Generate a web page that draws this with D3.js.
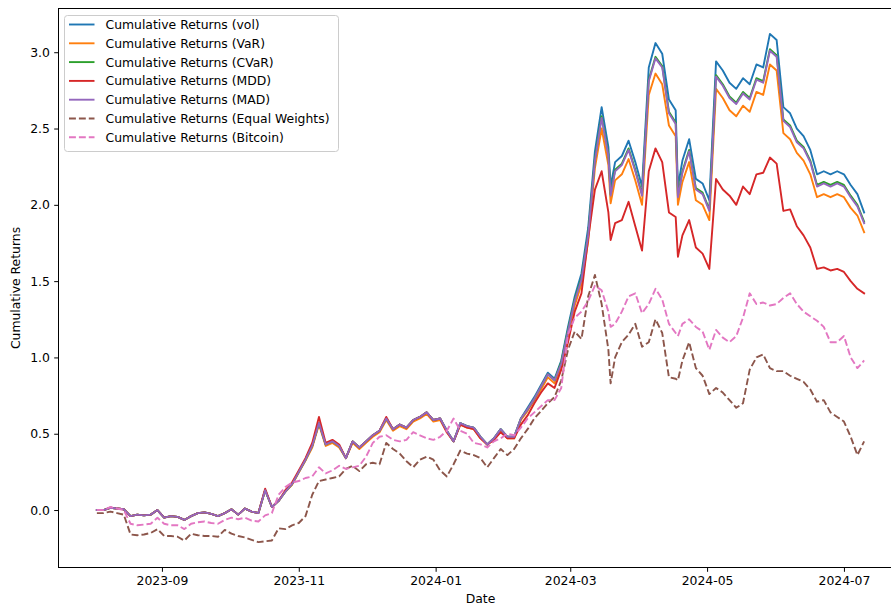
<!DOCTYPE html>
<html><head><meta charset="utf-8">
<script src="https://cdn.jsdelivr.net/npm/d3@7"></script>
<style>body{margin:0;background:#fff;} svg{display:block;font-family:"DejaVu Sans",sans-serif;}</style>
</head><body><svg id="chart" width="891" height="605"></svg>
<script>
const dates=["2023-08-03","2023-08-06","2023-08-09","2023-08-12","2023-08-15","2023-08-18","2023-08-21","2023-08-24","2023-08-27","2023-08-30",
"2023-09-02","2023-09-05","2023-09-08","2023-09-11","2023-09-14","2023-09-17","2023-09-20","2023-09-23","2023-09-26","2023-09-29",
"2023-10-02","2023-10-05","2023-10-08","2023-10-11","2023-10-14","2023-10-17","2023-10-20","2023-10-23","2023-10-26","2023-10-29",
"2023-11-01","2023-11-04","2023-11-07","2023-11-10","2023-11-13","2023-11-16","2023-11-19","2023-11-22","2023-11-25","2023-11-28",
"2023-12-01","2023-12-04","2023-12-07","2023-12-10","2023-12-13","2023-12-16","2023-12-19","2023-12-22","2023-12-25","2023-12-28",
"2023-12-31","2024-01-03","2024-01-06","2024-01-09","2024-01-12","2024-01-15","2024-01-18","2024-01-21","2024-01-24","2024-01-27",
"2024-01-30","2024-02-02","2024-02-05","2024-02-08","2024-02-11","2024-02-14","2024-02-17","2024-02-20","2024-02-23","2024-02-26",
"2024-02-29","2024-03-03","2024-03-06","2024-03-09","2024-03-12","2024-03-15","2024-03-18","2024-03-19","2024-03-21","2024-03-24","2024-03-27",
"2024-03-30","2024-04-02","2024-04-05","2024-04-08","2024-04-11","2024-04-14","2024-04-17","2024-04-18","2024-04-20","2024-04-23","2024-04-26",
"2024-04-29","2024-05-02","2024-05-05","2024-05-08","2024-05-11","2024-05-14","2024-05-17","2024-05-20","2024-05-23","2024-05-26",
"2024-05-29","2024-06-01","2024-06-04","2024-06-07","2024-06-10","2024-06-13","2024-06-16","2024-06-19","2024-06-22","2024-06-25",
"2024-06-28","2024-07-01","2024-07-04","2024-07-07","2024-07-10"];

const volReturns=[0.00,0.00,0.015,0.01,0.005,-0.04,-0.03,-0.035,-0.03,0.00,
-0.05,-0.04,-0.045,-0.065,-0.04,-0.02,-0.015,-0.025,-0.04,-0.02,
0.005,-0.03,0.01,-0.01,-0.02,0.13,0.02,0.06,0.12,0.17,
0.25,0.33,0.42,0.57,0.43,0.45,0.42,0.34,0.45,0.41,
0.45,0.49,0.52,0.60,0.53,0.56,0.54,0.59,0.61,0.64,
0.59,0.60,0.52,0.45,0.57,0.55,0.54,0.48,0.43,0.47,
0.53,0.48,0.48,0.60,0.67,0.74,0.82,0.90,0.86,0.98,
1.20,1.40,1.55,1.85,2.35,2.64,2.38,2.12,2.28,2.32,2.42,
2.28,2.12,2.90,3.06,2.99,2.69,2.62,2.12,2.29,2.43,2.17,
2.14,2.03,2.94,2.88,2.80,2.76,2.83,2.79,2.92,2.90,
3.12,3.08,2.64,2.60,2.50,2.45,2.36,2.20,2.22,2.20,
2.22,2.20,2.13,2.07,1.95];

const varReturns=[0.00,0.00,0.015,0.01,0.005,-0.04,-0.03,-0.035,-0.03,0.00,
-0.05,-0.04,-0.045,-0.065,-0.04,-0.02,-0.015,-0.025,-0.04,-0.02,
0.005,-0.03,0.01,-0.01,-0.02,0.13,0.02,0.06,0.12,0.165,
0.245,0.325,0.41,0.56,0.42,0.44,0.41,0.34,0.44,0.40,
0.44,0.48,0.51,0.59,0.52,0.55,0.53,0.58,0.60,0.63,
0.58,0.59,0.51,0.45,0.56,0.54,0.53,0.47,0.43,0.46,
0.52,0.47,0.47,0.59,0.65,0.72,0.79,0.87,0.83,0.94,
1.15,1.34,1.48,1.76,2.24,2.50,2.26,2.01,2.16,2.20,2.30,
2.16,2.00,2.72,2.86,2.79,2.52,2.45,2.00,2.15,2.28,2.03,
2.00,1.90,2.76,2.70,2.62,2.58,2.65,2.61,2.74,2.72,
2.92,2.88,2.47,2.43,2.34,2.29,2.20,2.05,2.07,2.05,
2.07,2.05,1.98,1.93,1.82];

const cvarReturns=[0.00,0.00,0.015,0.01,0.005,-0.04,-0.03,-0.035,-0.03,0.00,
-0.05,-0.04,-0.045,-0.065,-0.04,-0.02,-0.015,-0.025,-0.04,-0.02,
0.005,-0.03,0.01,-0.01,-0.02,0.13,0.02,0.06,0.12,0.17,
0.25,0.33,0.42,0.57,0.43,0.45,0.42,0.34,0.45,0.41,
0.45,0.49,0.52,0.60,0.53,0.56,0.54,0.59,0.61,0.64,
0.59,0.60,0.52,0.45,0.57,0.55,0.54,0.48,0.43,0.47,
0.53,0.48,0.48,0.60,0.66,0.73,0.81,0.89,0.85,0.97,
1.18,1.38,1.52,1.81,2.30,2.58,2.33,2.07,2.23,2.27,2.37,
2.23,2.07,2.82,2.97,2.91,2.61,2.54,2.06,2.22,2.36,2.11,
2.08,1.97,2.85,2.79,2.71,2.67,2.74,2.70,2.83,2.81,
3.02,2.98,2.56,2.52,2.42,2.38,2.29,2.13,2.15,2.13,
2.15,2.13,2.06,2.00,1.89];

const mddReturns=[0.00,0.00,0.015,0.01,0.005,-0.04,-0.03,-0.035,-0.03,0.00,
-0.05,-0.04,-0.045,-0.065,-0.04,-0.02,-0.015,-0.025,-0.04,-0.02,
0.005,-0.03,0.01,-0.01,-0.02,0.14,0.02,0.06,0.13,0.18,
0.26,0.34,0.44,0.61,0.44,0.46,0.43,0.34,0.45,0.41,
0.45,0.49,0.52,0.61,0.53,0.56,0.54,0.59,0.61,0.64,
0.59,0.60,0.51,0.45,0.56,0.54,0.53,0.47,0.43,0.46,
0.51,0.47,0.47,0.56,0.62,0.70,0.77,0.83,0.80,0.92,
1.10,1.30,1.42,1.78,2.10,2.22,1.95,1.77,1.88,1.90,2.02,
1.86,1.70,2.22,2.37,2.28,1.95,1.92,1.66,1.80,1.90,1.72,
1.68,1.58,2.17,2.10,2.06,2.00,2.12,2.07,2.20,2.21,
2.31,2.27,1.96,1.97,1.86,1.80,1.72,1.58,1.59,1.57,
1.58,1.56,1.50,1.45,1.42];

const madReturns=[0.00,0.00,0.015,0.01,0.005,-0.04,-0.03,-0.035,-0.03,0.00,
-0.05,-0.04,-0.045,-0.065,-0.04,-0.02,-0.015,-0.025,-0.04,-0.02,
0.005,-0.03,0.01,-0.01,-0.02,0.13,0.02,0.06,0.12,0.17,
0.25,0.33,0.42,0.57,0.43,0.45,0.42,0.34,0.45,0.41,
0.45,0.49,0.52,0.60,0.53,0.56,0.54,0.59,0.61,0.64,
0.59,0.60,0.52,0.45,0.57,0.55,0.54,0.48,0.43,0.47,
0.53,0.48,0.48,0.60,0.66,0.73,0.81,0.89,0.85,0.96,
1.17,1.37,1.51,1.80,2.29,2.57,2.32,2.06,2.22,2.26,2.36,
2.22,2.06,2.81,2.96,2.90,2.60,2.53,2.05,2.21,2.35,2.10,
2.07,1.96,2.84,2.78,2.70,2.66,2.73,2.69,2.82,2.80,
3.01,2.97,2.55,2.51,2.41,2.37,2.28,2.12,2.14,2.12,
2.14,2.12,2.05,1.99,1.88];

const equalWeightReturns=[-0.02,-0.02,-0.01,-0.02,-0.03,-0.16,-0.165,-0.16,-0.15,-0.125,
-0.17,-0.17,-0.175,-0.20,-0.155,-0.165,-0.17,-0.17,-0.175,-0.13,
-0.155,-0.17,-0.18,-0.195,-0.21,-0.205,-0.20,-0.12,-0.125,-0.10,
-0.085,-0.04,0.10,0.19,0.20,0.21,0.22,0.27,0.29,0.255,
0.30,0.31,0.30,0.44,0.40,0.37,0.32,0.28,0.33,0.35,
0.33,0.26,0.22,0.30,0.39,0.37,0.36,0.34,0.28,0.34,
0.40,0.36,0.40,0.47,0.53,0.60,0.65,0.70,0.74,0.85,
1.05,1.17,1.12,1.40,1.54,1.35,1.05,0.83,1.00,1.10,1.15,
1.22,1.07,1.10,1.25,1.16,0.87,0.86,0.85,0.98,1.10,0.93,
0.88,0.76,0.80,0.77,0.72,0.67,0.70,0.92,1.00,1.02,
0.93,0.91,0.91,0.88,0.86,0.84,0.79,0.71,0.72,0.64,
0.61,0.58,0.48,0.36,0.45];

const bitcoinReturns=[0.00,0.00,0.02,0.01,0.00,-0.09,-0.10,-0.095,-0.09,-0.05,
-0.09,-0.10,-0.10,-0.125,-0.09,-0.08,-0.075,-0.085,-0.09,-0.065,
-0.05,-0.06,-0.05,-0.07,-0.075,-0.035,-0.02,0.10,0.15,0.18,
0.19,0.21,0.22,0.28,0.24,0.26,0.29,0.27,0.28,0.29,
0.35,0.44,0.48,0.49,0.46,0.45,0.46,0.51,0.49,0.47,
0.46,0.48,0.52,0.60,0.52,0.50,0.44,0.43,0.41,0.45,
0.47,0.50,0.49,0.54,0.60,0.64,0.68,0.72,0.72,0.80,
1.15,1.26,1.30,1.37,1.47,1.44,1.30,1.20,1.22,1.30,1.40,
1.42,1.29,1.35,1.45,1.38,1.22,1.16,1.14,1.22,1.25,1.20,
1.17,1.05,1.18,1.13,1.10,1.14,1.26,1.42,1.35,1.36,
1.34,1.35,1.39,1.42,1.35,1.30,1.27,1.24,1.20,1.10,
1.10,1.14,1.00,0.93,0.98];

const seriesLabels=["Cumulative Returns (vol)","Cumulative Returns (VaR)","Cumulative Returns (CVaR)","Cumulative Returns (MDD)","Cumulative Returns (MAD)","Cumulative Returns (Equal Weights)","Cumulative Returns (Bitcoin)"];
const seriesColors=["#1f77b4","#ff7f0e","#2ca02c","#d62728","#9467bd","#8c564b","#e377c2"];
const seriesDashed=[false,false,false,false,false,true,true];
const seriesValues=[volReturns,varReturns,cvarReturns,mddReturns,madReturns,equalWeightReturns,bitcoinReturns];
const yTickValues=[0.0,0.5,1.0,1.5,2.0,2.5,3.0];
const xTickDates=["2023-09-01","2023-11-01","2024-01-01","2024-03-01","2024-05-01","2024-07-01"];
const xLabel="Date", yLabel="Cumulative Returns";

const svg=d3.select("#chart");
const plot={left:58.5,right:902.5,top:8.5,bottom:567.5};
const fs=12.4;
const parse=d3.timeParse("%Y-%m-%d");
const X=dates.map(parse);
const [d0,d1]=d3.extent(X);
const span=d1-d0;
const x=d3.scaleTime().domain([new Date(+d0-0.05*span),new Date(+d1+0.05*span)]).range([plot.left,plot.right]);
const allV=seriesValues.flat();
const [v0,v1]=d3.extent(allV);const vs=v1-v0;
const y=d3.scaleLinear().domain([v0-0.05*vs,v1+0.05*vs]).range([plot.bottom,plot.top]);

svg.append("rect").attr("width",891).attr("height",605).attr("fill","#fff");
svg.append("defs").append("clipPath").attr("id","clip").append("rect")
  .attr("x",plot.left).attr("y",plot.top).attr("width",plot.right-plot.left).attr("height",plot.bottom-plot.top);

const line=d3.line().x((d,i)=>x(X[i])).y(d=>y(d));
const g=svg.append("g").attr("clip-path","url(#clip)");
seriesValues.forEach((vals,si)=>{
  g.append("path").datum(vals).attr("d",line).attr("fill","none")
   .attr("stroke",seriesColors[si]).attr("stroke-width",1.9)
   .attr("stroke-linejoin","round")
   .attr("stroke-linecap",seriesDashed[si]?"butt":"square")
   .attr("stroke-dasharray",seriesDashed[si]?"6.9,3":null);
});

svg.append("rect").attr("x",plot.left).attr("y",plot.top).attr("width",plot.right-plot.left).attr("height",plot.bottom-plot.top)
  .attr("fill","none").attr("stroke","#000").attr("stroke-width",1);

const xAxis=d3.axisBottom(x).tickValues(xTickDates.map(parse)).tickFormat(d3.timeFormat("%Y-%m")).tickSize(4.3).tickPadding(4.3);
const gx=svg.append("g").attr("transform",`translate(0,${plot.bottom})`).call(xAxis);
const yAxis=d3.axisLeft(y).tickValues(yTickValues).tickFormat(d3.format(".1f")).tickSize(4.3).tickPadding(4.3);
const gy=svg.append("g").attr("transform",`translate(${plot.left},0)`).call(yAxis);
[gx,gy].forEach(a=>{
  a.select(".domain").remove();
  a.selectAll("line").attr("stroke","#000").attr("stroke-width",1);
  a.selectAll("text").attr("fill","#000").style("font-size",fs+"px").style("font-family","DejaVu Sans");
});

svg.append("text").attr("x",(plot.left+plot.right)/2).attr("y",603).attr("text-anchor","middle")
  .style("font-size",fs+"px").attr("fill","#000").text(xLabel);
svg.append("text").attr("transform",`translate(20,${(plot.top+plot.bottom)/2}) rotate(-90)`).attr("text-anchor","middle")
  .style("font-size",fs+"px").attr("fill","#000").text(yLabel);

const lg=svg.append("g");
lg.append("rect").attr("x",64.5).attr("y",15.5).attr("width",274).attr("height",136).attr("rx",3)
  .attr("fill","#fff").attr("fill-opacity",0.8).attr("stroke","#cccccc").attr("stroke-width",1);
seriesLabels.forEach((lab,i)=>{
  const cy=24.5+i*18.8;
  lg.append("line").attr("x1",69).attr("x2",94.5).attr("y1",cy).attr("y2",cy)
    .attr("stroke",seriesColors[i]).attr("stroke-width",1.9)
    .attr("stroke-dasharray",seriesDashed[i]?"6.9,3":null);
  lg.append("text").attr("x",105.5).attr("y",cy).attr("dy","0.36em")
    .style("font-size",fs+"px").attr("fill","#000").text(lab);
});
</script></body></html>
